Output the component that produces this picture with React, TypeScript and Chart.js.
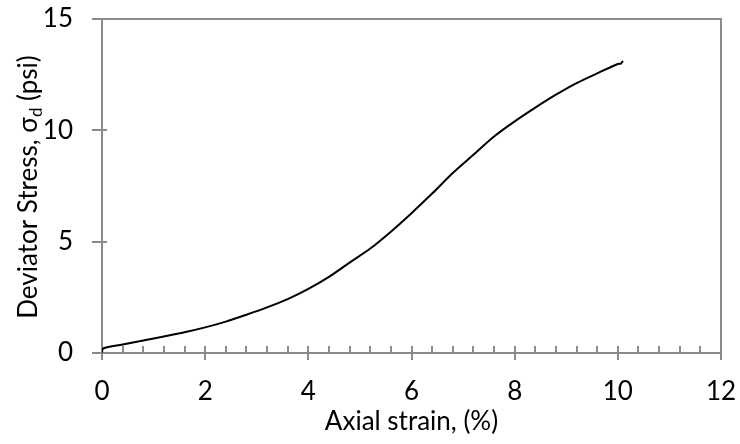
import React, { useEffect, useRef } from "react";
import { Chart, registerables } from "chart.js";

Chart.register(...registerables);

// ---- data ----
const strain = [
  0, 0.02, 0.4, 0.8, 1.2, 1.6, 2.0, 2.4, 2.8, 3.2, 3.6, 4.0, 4.4, 4.8, 5.2,
  5.6, 6.0, 6.4, 6.8, 7.2, 7.6, 8.0, 8.4, 8.8, 9.2, 9.6, 10.0, 10.06, 10.1,
];
const stress = [
  0.02, 0.2, 0.38, 0.56, 0.74, 0.93, 1.15, 1.41, 1.72, 2.05, 2.42, 2.88, 3.42,
  4.06, 4.69, 5.45, 6.28, 7.16, 8.08, 8.9, 9.72, 10.4, 11.02, 11.6, 12.12,
  12.56, 12.98, 13.0, 13.12,
];
const xMajorTicks = [0, 2, 4, 6, 8, 10, 12];
const xMinorStep = 0.4;
const yMajorTicks = [0, 5, 10, 15];
const xTitle = "Axial strain, (%)";
const yTitleMain = "Deviator Stress, σ";
const yTitleSub = "d";
const yTitleTail = " (psi)";

const FONT = "Lato, 'Open Sans', 'DejaVu Sans', sans-serif";
const GRAY = "#8a8a8a";
const FS = 26;

const framePlugin = {
  id: "frame",
  beforeDatasetsDraw(chart: any) {
    const { ctx, chartArea: a, scales } = chart;
    const x = scales.x;
    const y = scales.y;
    ctx.save();
    ctx.strokeStyle = GRAY;
    ctx.lineWidth = 2;
    ctx.strokeRect(a.left, a.top, a.right - a.left, a.bottom - a.top);
    ctx.beginPath();
    const xmin = x.min;
    const xmax = x.max;
    const n = Math.round((xmax - xmin) / xMinorStep);
    for (let i = 0; i <= n; i++) {
      const px = Math.round(x.getPixelForValue(xmin + i * xMinorStep));
      ctx.moveTo(px, a.bottom);
      ctx.lineTo(px, a.bottom - 7);
    }
    for (const v of xMajorTicks) {
      const px = Math.round(x.getPixelForValue(v));
      ctx.moveTo(px, a.bottom - 7);
      ctx.lineTo(px, a.bottom + 7);
    }
    for (const v of yMajorTicks) {
      const py = Math.round(y.getPixelForValue(v));
      ctx.moveTo(a.left - 10, py);
      ctx.lineTo(a.left + 5, py);
    }
    ctx.stroke();
    ctx.restore();
  },
  afterDraw(chart: any) {
    const { ctx, chartArea: a } = chart;
    ctx.save();
    ctx.fillStyle = "#000";
    ctx.font = `${FS}px ${FONT}`;
    // x title
    ctx.textAlign = "center";
    ctx.textBaseline = "alphabetic";
    ctx.fillText(xTitle, (a.left + a.right) / 2, 430);
    // y title with subscript
    const subFont = `${Math.round(FS * 0.65)}px ${FONT}`;
    const w1 = ctx.measureText(yTitleMain).width;
    const w3 = ctx.measureText(yTitleTail).width;
    ctx.font = subFont;
    const w2 = ctx.measureText(yTitleSub).width;
    const total = w1 + w2 + w3;
    const cy = 187;
    ctx.translate(37, cy);
    ctx.rotate(-Math.PI / 2);
    ctx.textAlign = "left";
    let pos = -total / 2;
    ctx.font = `${FS}px ${FONT}`;
    ctx.fillText(yTitleMain, pos, 0);
    pos += w1;
    ctx.font = subFont;
    ctx.fillText(yTitleSub, pos, 5);
    pos += w2;
    ctx.font = `${FS}px ${FONT}`;
    ctx.fillText(yTitleTail, pos, 0);
    ctx.restore();
  },
};

const zeroPad = (s: any) => {
  s.paddingLeft = 0;
  s.paddingRight = 0;
  s.paddingTop = 0;
  s.paddingBottom = 0;
};

export default function App() {
  const ref = useRef<HTMLCanvasElement | null>(null);
  useEffect(() => {
    if (!ref.current) return;
    const points = strain.map((s, i) => ({ x: s, y: stress[i] }));
    const chart = new Chart(ref.current, {
      type: "scatter",
      data: {
        datasets: [
          {
            data: points,
            showLine: true,
            borderColor: "#000",
            borderWidth: 2,
            pointRadius: 0,
            tension: 0.3,
            fill: false,
          },
        ],
      },
      options: {
        animation: false,
        responsive: true,
        maintainAspectRatio: false,
        layout: { padding: { top: 19, right: 19, left: 0, bottom: 0 } },
        plugins: {
          legend: { display: false },
          tooltip: { enabled: false },
        },
        scales: {
          x: {
            type: "linear",
            min: 0,
            max: 12,
            afterFit: (s: any) => {
              s.height = 91;
              zeroPad(s);
            },
            grid: { display: false, drawTicks: false },
            border: { display: false },
            ticks: {
              stepSize: 2,
              padding: 23,
              color: "#000",
              font: { family: FONT, size: FS },
            },
          },
          y: {
            type: "linear",
            min: 0,
            max: 15,
            afterFit: (s: any) => {
              s.width = 102;
              zeroPad(s);
            },
            grid: { display: false, drawTicks: false },
            border: { display: false },
            ticks: {
              stepSize: 5,
              padding: 29,
              color: "#000",
              font: { family: FONT, size: FS },
            },
          },
        },
      },
      plugins: [framePlugin],
    });
    return () => chart.destroy();
  }, []);
  return (
    <div style={{ position: "absolute", left: 0, top: 0, width: 740, height: 444, background: "#fff" }}>
      <canvas ref={ref} />
    </div>
  );
}
